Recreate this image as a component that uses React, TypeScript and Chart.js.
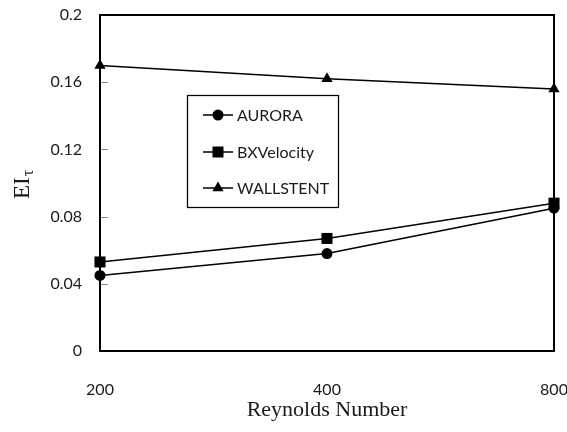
import React, { useEffect, useRef } from 'react';
import { Chart, registerables } from 'chart.js';

Chart.register(...registerables);

const categories = ['200', '400', '800'];
const aurora = [0.045, 0.058, 0.085];
const bxVelocity = [0.053, 0.067, 0.088];
const wallstent = [0.170, 0.162, 0.156];
const seriesNames = ['AURORA', 'BXVelocity', 'WALLSTENT'];
const seriesMarkers = ['circle', 'rect', 'triangle'];
const xTitle = 'Reynolds Number';
const yTitleMain = 'EI';
const yTitleSub = 'τ';

const SANS = 'Lato, "Open Sans", sans-serif';
const SERIF = '"Liberation Serif", "DejaVu Serif", serif';

function drawMarker(ctx: CanvasRenderingContext2D, kind: string, x: number, y: number) {
  ctx.beginPath();
  if (kind === 'circle') {
    ctx.arc(x, y, 5.5, 0, Math.PI * 2);
  } else if (kind === 'rect') {
    ctx.rect(x - 5.5, y - 5.5, 11, 11);
  } else {
    const r = 6.5;
    ctx.moveTo(x, y - r);
    ctx.lineTo(x + r * 0.866, y + r * 0.5);
    ctx.lineTo(x - r * 0.866, y + r * 0.5);
    ctx.closePath();
  }
  ctx.fill();
}

const framePlugin = {
  id: 'frame',
  beforeDatasetsDraw(chart: any) {
    const { ctx, chartArea } = chart;
    const ys = chart.scales.y;
    ctx.save();
    ctx.strokeStyle = '#8a8a8a';
    ctx.lineWidth = 1;
    for (const t of ys.ticks) {
      const py = Math.round(ys.getPixelForValue(t.value)) + 0.5;
      ctx.beginPath();
      ctx.moveTo(chartArea.left, py);
      ctx.lineTo(chartArea.left + 8, py);
      ctx.stroke();
    }
    ctx.strokeStyle = '#000';
    ctx.lineWidth = 2;
    ctx.strokeRect(chartArea.left, chartArea.top, chartArea.right - chartArea.left, chartArea.bottom - chartArea.top);
    ctx.restore();
  },
  afterDraw(chart: any) {
    const { ctx, chartArea } = chart;
    ctx.save();
    ctx.fillStyle = '#1a1a1a';
    ctx.font = `22px ${SERIF}`;
    ctx.textAlign = 'center';
    ctx.textBaseline = 'middle';
    ctx.fillText(xTitle, (chartArea.left + chartArea.right) / 2, 410);
    ctx.save();
    ctx.translate(29, 199);
    ctx.rotate(-Math.PI / 2);
    ctx.textAlign = 'left';
    ctx.textBaseline = 'alphabetic';
    ctx.font = `23px ${SERIF}`;
    ctx.fillText(yTitleMain, 0, 0);
    const w = ctx.measureText(yTitleMain).width;
    ctx.font = `16px ${SERIF}`;
    ctx.fillText(yTitleSub, w + 1, 4);
    ctx.restore();
    const bx = 187, by = 95, bw = 151, bh = 112;
    ctx.fillStyle = '#fff';
    ctx.fillRect(bx, by, bw, bh);
    ctx.strokeStyle = '#000';
    ctx.lineWidth = 1.25;
    ctx.strokeRect(bx + 0.5, by + 0.5, bw, bh);
    const rows = [115, 152, 188];
    seriesNames.forEach((name, i) => {
      const ry = rows[i];
      ctx.strokeStyle = '#000';
      ctx.lineWidth = 1.5;
      ctx.beginPath();
      ctx.moveTo(203, ry);
      ctx.lineTo(233, ry);
      ctx.stroke();
      ctx.fillStyle = '#000';
      drawMarker(ctx, seriesMarkers[i], 218, ry);
      ctx.fillStyle = '#1a1a1a';
      ctx.font = `16px ${SANS}`;
      ctx.textAlign = 'left';
      ctx.textBaseline = 'middle';
      ctx.fillText(name, 237, ry + 1);
    });
    ctx.restore();
  },
};

export default function App() {
  const ref = useRef<HTMLCanvasElement>(null);
  useEffect(() => {
    if (!ref.current) return;
    const ds = (label: string, data: number[], style: string, radius: number) => ({
      label,
      data,
      borderColor: '#000',
      backgroundColor: '#000',
      borderWidth: 1.5,
      pointStyle: style,
      pointRadius: radius,
      pointBorderWidth: 0,
      pointBackgroundColor: '#000',
      tension: 0,
      clip: false as any,
    });
    const chart = new Chart(ref.current, {
      type: 'line',
      data: {
        labels: categories,
        datasets: [
          ds(seriesNames[0], aurora, 'circle', 5.5),
          ds(seriesNames[1], bxVelocity, 'rect', 7.8),
          ds(seriesNames[2], wallstent, 'triangle', 6.5),
        ],
      },
      options: {
        responsive: false,
        animation: false,
        layout: { padding: { left: 0, right: 13, top: 15, bottom: 0 } },
        plugins: { legend: { display: false }, tooltip: { enabled: false }, title: { display: false } },
        scales: {
          x: {
            type: 'category',
            offset: false,
            grid: { display: false, drawTicks: false },
            border: { display: false },
            ticks: { color: '#1a1a1a', font: { family: SANS, size: 16 }, padding: 29, maxRotation: 0 },
            afterFit: (s: any) => { s.height = 81; s.paddingLeft = 0; s.paddingRight = 0; },
          },
          y: {
            min: 0,
            max: 0.2,
            grid: { display: false, drawTicks: false },
            border: { display: false },
            ticks: {
              stepSize: 0.04,
              color: '#1a1a1a',
              font: { family: SANS, size: 16 },
              padding: 18,
              callback: (v: any) => String(parseFloat(Number(v).toFixed(2))),
            },
            afterFit: (s: any) => { s.width = 100; s.paddingTop = 0; s.paddingBottom = 0; },
          },
        },
      },
      plugins: [framePlugin],
    });
    return () => chart.destroy();
  }, []);
  return (
    <div style={{ position: 'fixed', left: 0, top: 0, width: 567, height: 432, background: '#fff' }}>
      <canvas ref={ref} width={567} height={432} />
    </div>
  );
}
